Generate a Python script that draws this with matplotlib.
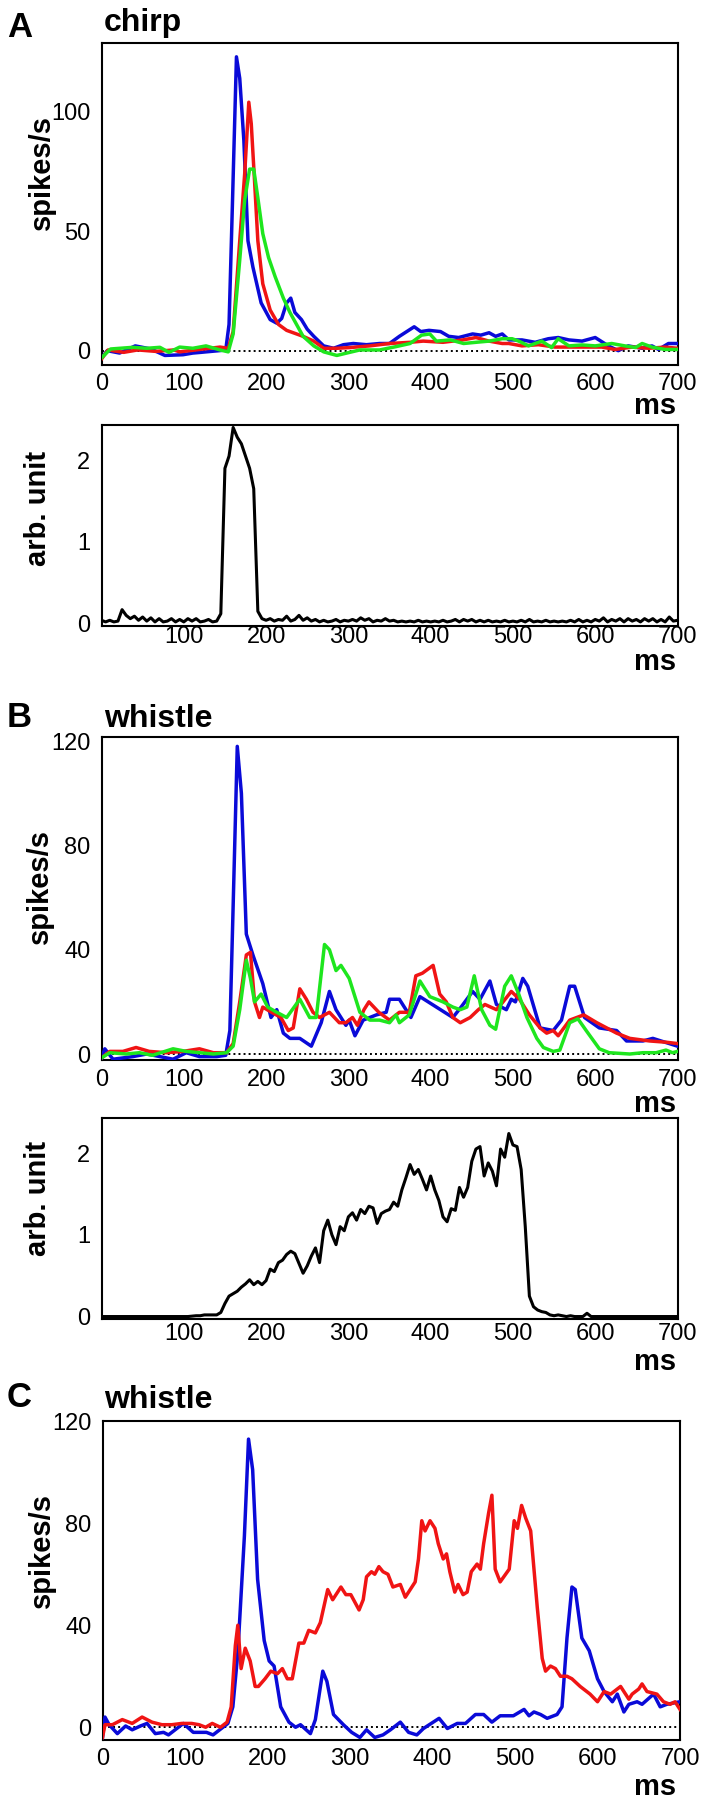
import numpy as np
import matplotlib
matplotlib.use("Agg")
import matplotlib.pyplot as plt

plt.rcParams['font.family'] = ['Liberation Sans', 'DejaVu Sans']

# ---------------- data ----------------
ms_ticks = [0, 100, 200, 300, 400, 500, 600, 700]
env_ticks = [100, 200, 300, 400, 500, 600, 700]

# Panel A: chirp responses (spikes/s)
a_blue_t = [0, 7, 22, 41, 60, 77, 99, 111, 121, 127, 143, 151, 155, 159, 164, 168, 173, 178, 184, 194,
            205, 213, 219, 225, 230, 235, 243, 250, 258, 270, 282, 294, 306, 322, 338, 350, 362, 380, 388, 398,
            412, 422, 434, 451, 461, 471, 479, 487, 495, 511, 527, 543, 555, 568, 584, 600, 616, 628, 640, 657,
            669, 677, 689, 700]
a_blue_v = [-3, 0, -1, 2, 0.7, -2, -1.7, -1, -0.7, -0.5, 0, 0.3, 11, 60, 123, 114, 88, 46, 35, 20,
            13, 11.5, 13.5, 20, 22, 16, 13, 9, 6, 2, 1, 2.5, 3, 2.5, 3, 3, 6, 10, 8, 8.5,
            8, 6, 5.5, 7, 6.5, 7.5, 6, 7, 4.5, 4.5, 3.5, 5, 5.5, 4.5, 4, 5.5, 2, 0, 2, 1,
            2, 0.5, 3, 3]
a_red_t = [0, 8, 27, 44, 66, 88, 95, 119, 144, 154, 160, 168, 174, 179, 182, 186, 190, 196, 205, 215,
           225, 237, 245, 258, 270, 286, 302, 326, 350, 375, 391, 415, 439, 455, 471, 487, 495, 511, 531, 551,
           584, 608, 624, 645, 665, 685, 700]
a_red_v = [-3.5, 0.3, -0.7, 0.3, -0.3, 0.3, -0.5, 0.5, 1.5, 1, 8, 46, 74, 104, 95, 71, 46, 28, 17, 11,
           8.5, 7, 6, 4, 1, 1, 1.3, 2, 3, 3.5, 4, 3.5, 4.5, 5.5, 4, 3, 3, 2, 2.5, 1.5,
           1.5, 1.5, 0.5, 1.5, 1, 1.5, 1]
a_green_t = [0, 11, 38, 55, 71, 82, 95, 111, 127, 144, 154, 160, 168, 174, 180, 185, 190, 196, 203, 211,
             221, 229, 237, 245, 258, 270, 286, 298, 314, 338, 358, 375, 389, 399, 407, 424, 440, 455, 471, 487,
             499, 507, 519, 535, 547, 555, 568, 584, 600, 620, 636, 649, 657, 669, 685, 700]
a_green_v = [-3, 0.7, 1.4, 1, 1.4, -0.7, 1.5, 1, 2, 0.3, -0.5, 7, 38, 63, 76, 76, 64, 49, 39, 31,
             22, 16, 11, 6, 2, -0.5, -2, -1, 0.3, 0.3, 1.7, 3, 6.5, 7, 4, 4.5, 3, 3.5, 4, 5,
             5, 4, 2, 4, 1.3, 5, 2, 2.4, 2, 3, 2, 1.3, 3, 1.5, 0.5, 0.5]

# Panel A: chirp amplitude envelope (arb. unit), sampled every 5 ms from 0 to 700
a_env = [0.04, 0.02, 0.04, 0.02, 0.03, 0.17, 0.10, 0.06, 0.09, 0.04,
         0.08, 0.03, 0.07, 0.02, 0.06, 0.02, 0.03, 0.06, 0.02, 0.05,
         0.02, 0.06, 0.03, 0.06, 0.02, 0.03, 0.05, 0.02, 0.03, 0.12,
         1.90, 2.05, 2.40, 2.28, 2.20, 2.05, 1.90, 1.65, 0.15, 0.06,
         0.04, 0.06, 0.03, 0.05, 0.04, 0.09, 0.03, 0.05, 0.10, 0.04,
         0.07, 0.03, 0.05, 0.02, 0.04, 0.02, 0.03, 0.05, 0.02, 0.04,
         0.03, 0.05, 0.03, 0.07, 0.04, 0.06, 0.02, 0.04, 0.03, 0.06,
         0.03, 0.04, 0.02, 0.03, 0.02, 0.03, 0.02, 0.04, 0.02, 0.03,
         0.02, 0.03, 0.02, 0.04, 0.02, 0.03, 0.05, 0.02, 0.05, 0.03,
         0.05, 0.02, 0.04, 0.02, 0.04, 0.02, 0.03, 0.02, 0.04, 0.02,
         0.03, 0.02, 0.04, 0.02, 0.05, 0.02, 0.03, 0.02, 0.04, 0.02,
         0.03, 0.02, 0.03, 0.02, 0.04, 0.02, 0.05, 0.02, 0.04, 0.02,
         0.05, 0.03, 0.07, 0.02, 0.05, 0.03, 0.06, 0.02, 0.06, 0.03,
         0.05, 0.02, 0.06, 0.03, 0.06, 0.02, 0.05, 0.02, 0.08, 0.03,
         0.04]

# Panel B: whistle responses (spikes/s)
b_blue_t = [0, 4, 14, 38, 55, 71, 87, 103, 119, 140, 151, 156, 160, 165, 170, 176, 184, 196, 206, 213,
            221, 229, 241, 255, 267, 277, 285, 297, 301, 308, 318, 334, 346, 350, 362, 376, 387, 407, 427, 437,
            451, 460, 472, 480, 492, 498, 503, 512, 518, 533, 549, 559, 569, 575, 587, 605, 626, 638, 658, 670,
            700]
b_blue_v = [-2, 2, -2, -1, 0, -1, -2, 0.5, -1, -1, -0.5, 9, 57, 118, 100, 46, 38, 27, 14, 17,
            8, 6, 6, 3, 12, 24, 17, 11, 13, 7, 13, 15, 16, 21, 21, 14, 22, 18, 14, 18,
            24, 21, 28, 19, 17, 21, 20, 29, 26, 10, 9, 13, 26, 26, 14, 10, 9, 5, 5, 6,
            3]
b_red_t = [0, 10, 26, 42, 58, 79, 99, 119, 136, 152, 160, 168, 176, 181, 186, 192, 196, 204, 218, 227,
           233, 241, 249, 257, 265, 277, 289, 297, 305, 311, 319, 325, 337, 350, 362, 374, 382, 390, 403, 411,
           419, 427, 436, 448, 458, 466, 480, 488, 498, 508, 520, 533, 541, 549, 555, 569, 586, 602, 626, 642,
           666, 687, 700]
b_red_v = [-1.5, 1, 1, 2.5, 1, 0.5, 1, 2, 0.5, 0.5, 4, 20, 38, 39, 20, 14, 18, 16.5, 14, 9,
           10, 25, 21, 16, 14, 16, 12, 12, 14, 11, 17, 20, 16, 13, 16, 16, 30, 31, 34, 23,
           20, 14, 12, 14, 17, 19, 17, 20, 24, 21, 15, 10, 8, 9, 7, 13, 15, 12, 8, 6,
           5, 4.5, 4]
b_green_t = [0, 10, 30, 46, 62, 87, 103, 119, 136, 152, 160, 168, 176, 181, 186, 194, 202, 213, 225, 241,
             253, 261, 271, 277, 285, 291, 301, 314, 326, 338, 350, 358, 362, 374, 387, 399, 415, 427, 436, 444,
             453, 462, 472, 479, 490, 498, 507, 517, 529, 537, 549, 557, 569, 579, 589, 605, 617, 642, 658, 674,
             686, 694, 700]
b_green_v = [-1.5, 0.5, 0, 0.5, -0.5, 2, 1, 0.5, 0, 0.5, 3, 17, 36, 29, 20, 23, 18, 16, 14, 21,
             14, 14, 42, 40, 32, 34, 29, 16, 13, 13, 12, 15, 12, 15, 28, 22, 20, 18, 17, 18,
             30, 17, 11, 9.5, 26, 30, 23, 14, 6, 2.5, 1, 1.5, 12, 13.5, 9, 2, 0.5, 0, 0.5, 0.5,
             1.5, 0.5, 1]

# Panel B: whistle amplitude envelope (arb. unit), every 5 ms from 0 to 700
b_env = [0, 0, 0, 0, 0, 0, 0, 0, 0, 0,
         0, 0, 0, 0, 0, 0, 0, 0, 0, 0,
         0, 0, 0.005, 0.01, 0.01, 0.02, 0.02, 0.02, 0.02, 0.05,
         0.16, 0.25, 0.28, 0.31, 0.36, 0.40, 0.45, 0.39, 0.43, 0.39,
         0.44, 0.58, 0.55, 0.66, 0.69, 0.76, 0.80, 0.77, 0.65, 0.53,
         0.62, 0.74, 0.84, 0.66, 1.05, 1.18, 1.00, 0.88, 1.10, 1.05,
         1.22, 1.27, 1.18, 1.31, 1.26, 1.35, 1.33, 1.14, 1.26, 1.29,
         1.31, 1.40, 1.35, 1.55, 1.70, 1.86, 1.74, 1.80, 1.68, 1.55,
         1.72, 1.55, 1.42, 1.22, 1.16, 1.32, 1.30, 1.58, 1.46, 1.58,
         1.90, 2.05, 2.08, 1.72, 1.88, 1.78, 1.60, 2.05, 1.95, 2.24,
         2.10, 2.08, 1.80, 1.10, 0.25, 0.12, 0.08, 0.06, 0.05, 0.02,
         0.01, 0.02, 0.01, 0.0, 0.01, 0.0, 0.0, 0.0, 0.04, 0.0,
         0, 0, 0, 0, 0, 0, 0, 0, 0, 0,
         0, 0, 0, 0, 0, 0, 0, 0, 0, 0,
         0]

# Panel C: whistle responses (spikes/s)
c_blue_t = [0, 3, 8, 18, 28, 36, 46, 54, 64, 74, 80, 88, 98, 110, 126, 134, 142, 152, 158, 164,
            172, 177, 182, 188, 196, 202, 208, 216, 226, 234, 240, 252, 258, 267, 272, 280, 292, 302, 312, 320,
            330, 340, 349, 361, 371, 381, 389, 408, 418, 430, 440, 452, 462, 472, 482, 498, 511, 517, 523, 531,
            539, 551, 557, 563, 569, 573, 581, 590, 600, 608, 618, 624, 632, 638, 648, 654, 668, 676, 684, 692,
            700]
c_blue_v = [-4, 4, 1, -2.5, 0.5, -1, 0.5, 1.5, -2.5, -2, -3, -1, 1.5, -2, -2, -3, -1, 1.5, 8, 29,
            75, 113, 101, 58, 34, 26, 24, 8, 2, 0, 1, -2.5, 3, 22, 18, 5, 1, -2, -4, -1,
            -4, -3, -1, 2, -2, -3, -0.5, 3.5, -0.5, 1.5, 1.5, 5, 5, 2, 4.5, 4.5, 7, 4.5, 6, 5,
            3.5, 5, 8, 35, 55, 54, 35, 30, 19, 14, 10, 13, 6, 9, 10, 9, 13, 8, 9, 9.5,
            10]
c_red_t = [0, 3, 12, 24, 36, 48, 60, 72, 84, 96, 108, 117, 125, 133, 143, 151, 156, 161, 164, 168,
           173, 179, 185, 189, 197, 204, 212, 218, 224, 230, 238, 244, 250, 258, 264, 273, 279, 289, 295, 301,
           311, 316, 320, 326, 330, 335, 340, 346, 352, 361, 367, 373, 379, 383, 387, 391, 397, 403, 407, 413,
           417, 421, 427, 431, 437, 442, 447, 454, 458, 462, 468, 472, 476, 482, 493, 499, 503, 508, 513, 519,
           527, 533, 537, 543, 549, 555, 563, 569, 579, 591, 600, 608, 616, 628, 638, 642, 650, 654, 660, 672,
           680, 688, 694, 700]
c_red_v = [-4, 1, 1, 3, 1.5, 4, 2, 1, 1, 1.5, 1.5, 1, 0, 1.5, 0, 2, 8, 32, 40, 23,
           31, 26, 16, 16, 19, 22, 21, 23, 19, 19, 33, 33, 38, 37, 41, 54, 50, 55, 52, 52,
           46, 50, 59, 61, 60, 63, 61, 60, 55, 56, 51, 54, 57, 66, 81, 77, 81, 78, 72, 66,
           68, 61, 53, 56, 52, 53, 61, 64, 62, 72, 84, 91, 62, 57, 62, 81, 78, 87, 82, 77,
           47, 27, 22, 24, 23, 20, 20, 19, 16, 13, 10, 14, 13, 16, 11, 13, 15, 17, 14, 13,
           10, 9, 10, 7]

env_t = np.arange(0, 701, 5)

BLUE = '#0a0ad8'
RED = '#f01414'
GREEN = '#1ee61e'

# ---------------- layout ----------------
W, H = 711, 1803
fig = plt.figure(figsize=(W / 100, H / 100), dpi=100)


def px_axes(left, top, right, bottom):
    return fig.add_axes([left / W, 1 - bottom / H, (right - left) / W, (bottom - top) / H])


def ftext(x, y, s, **kw):
    fig.text(x / W, 1 - y / H, s, **kw)


def style(ax, ylim, yticks, xticks, xpad):
    ax.set_xlim(0, 700)
    ax.set_ylim(*ylim)
    ax.set_yticks(yticks)
    ax.set_xticks(xticks)
    ax.tick_params(axis='both', length=0, labelsize=17)
    ax.tick_params(axis='y', pad=8)
    ax.tick_params(axis='x', pad=xpad)
    for sp in ax.spines.values():
        sp.set_linewidth(1.5)


def zero_line(ax):
    ax.axhline(0, color='black', lw=1.4, linestyle=(0, (1, 1.6)), zorder=1)


LW = 2.5

# A1
ax = px_axes(101.5, 42.5, 677.5, 365)
zero_line(ax)
ax.plot(a_blue_t, a_blue_v, color=BLUE, lw=LW, zorder=3)
ax.plot(a_red_t, a_red_v, color=RED, lw=LW, zorder=4)
ax.plot(a_green_t, a_green_v, color=GREEN, lw=LW, zorder=5)
style(ax, (-6, 129), [0, 50, 100], ms_ticks, 5.4)

# A2
ax = px_axes(101.5, 425, 677.5, 626)
ax.plot(env_t, a_env, color='black', lw=2.2)
style(ax, (-0.03, 2.43), [0, 1, 2], env_ticks, 0.2)

# B1
ax = px_axes(101.5, 737, 677.5, 1060)
zero_line(ax)
ax.plot(b_blue_t, b_blue_v, color=BLUE, lw=LW, zorder=3)
ax.plot(b_red_t, b_red_v, color=RED, lw=LW, zorder=4)
ax.plot(b_green_t, b_green_v, color=GREEN, lw=LW, zorder=5)
style(ax, (-2.3, 121.6), [0, 40, 80, 120], ms_ticks, 6.8)

# B2
ax = px_axes(101.5, 1118, 677.5, 1319)
ax.plot(env_t, b_env, color='black', lw=2.2)
style(ax, (-0.03, 2.43), [0, 1, 2], env_ticks, 3.2)

# C
ax = px_axes(102.5, 1420.5, 680, 1740)
zero_line(ax)
ax.plot(c_blue_t, c_blue_v, color=BLUE, lw=LW, zorder=3)
ax.plot(c_red_t, c_red_v, color=RED, lw=LW, zorder=4)
style(ax, (-5, 120.3), [0, 40, 80, 120], ms_ticks, 6.1)

# ---------------- texts ----------------
bold = dict(weight='bold')
ftext(7, 37, 'A', fontsize=25, va='baseline', **bold)
ftext(104, 31, 'chirp', fontsize=23, va='baseline', **bold)
ftext(7, 727, 'B', fontsize=25, va='baseline', **bold)
ftext(104, 727, 'whistle', fontsize=23, va='baseline', **bold)
ftext(7, 1407, 'C', fontsize=25, va='baseline', **bold)
ftext(104, 1408, 'whistle', fontsize=23, va='baseline', **bold)

for y in (414, 670, 1112, 1370, 1795):
    ftext(676, y, 'ms', fontsize=21, ha='right', va='baseline', **bold)

ylab = dict(fontsize=21, rotation=90, ha='center', va='center', **bold)
ftext(42, 172, 'spikes/s', **ylab)
ftext(38, 508, 'arb. unit', **ylab)
ftext(40, 886, 'spikes/s', **ylab)
ftext(38, 1198, 'arb. unit', **ylab)
ftext(42, 1550, 'spikes/s', **ylab)

fig.savefig('out.png', dpi=100)
